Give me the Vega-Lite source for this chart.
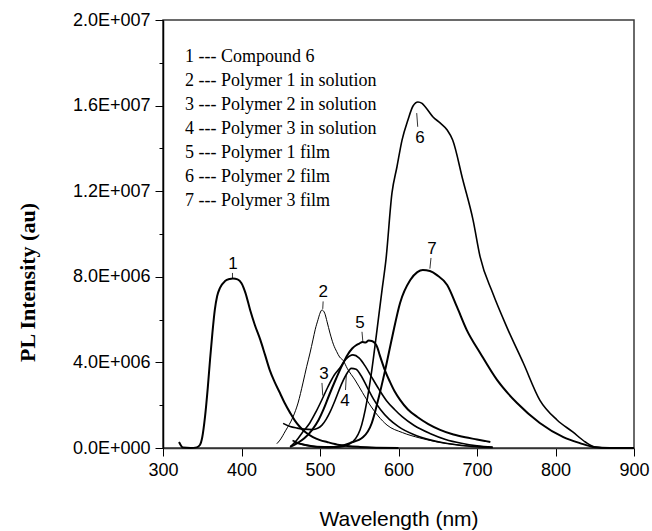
{
  "$schema": "https://vega.github.io/schema/vega-lite/v6.json",
  "width": 471,
  "height": 428,
  "autosize": {"type": "none"},
  "padding": {"left": 163, "top": 20, "right": 18, "bottom": 83},
  "background": "white",
  "config": {"view": {"stroke": "#3a3a3a", "strokeWidth": 1.5}, "font": "Liberation Sans"},
  "datasets": {
    "spectra": [
      {"s":"1 --- Compound 6","wl":320.4,"pl":0.28e6},{"s":"1 --- Compound 6","wl":325.5,"pl":0.02e6},{"s":"1 --- Compound 6","wl":335,"pl":0},{"s":"1 --- Compound 6","wl":343,"pl":0.03e6},{"s":"1 --- Compound 6","wl":347,"pl":0.14e6},{"s":"1 --- Compound 6","wl":350,"pl":0.5e6},{"s":"1 --- Compound 6","wl":353.5,"pl":1.45e6},{"s":"1 --- Compound 6","wl":357,"pl":2.8e6},{"s":"1 --- Compound 6","wl":360,"pl":4.16e6},{"s":"1 --- Compound 6","wl":363,"pl":5.4e6},{"s":"1 --- Compound 6","wl":366,"pl":6.45e6},{"s":"1 --- Compound 6","wl":369,"pl":7.1e6},{"s":"1 --- Compound 6","wl":372.6,"pl":7.48e6},{"s":"1 --- Compound 6","wl":379,"pl":7.8e6},{"s":"1 --- Compound 6","wl":385,"pl":7.9e6},{"s":"1 --- Compound 6","wl":389,"pl":7.92e6},{"s":"1 --- Compound 6","wl":395,"pl":7.88e6},{"s":"1 --- Compound 6","wl":400,"pl":7.7e6},{"s":"1 --- Compound 6","wl":405,"pl":7.25e6},{"s":"1 --- Compound 6","wl":411,"pl":6.45e6},{"s":"1 --- Compound 6","wl":417,"pl":5.75e6},{"s":"1 --- Compound 6","wl":424,"pl":5.05e6},{"s":"1 --- Compound 6","wl":430,"pl":4.35e6},{"s":"1 --- Compound 6","wl":436,"pl":3.64e6},{"s":"1 --- Compound 6","wl":442,"pl":3.1e6},{"s":"1 --- Compound 6","wl":449,"pl":2.57e6},{"s":"1 --- Compound 6","wl":455,"pl":2.1e6},{"s":"1 --- Compound 6","wl":462,"pl":1.64e6},{"s":"1 --- Compound 6","wl":468,"pl":1.28e6},{"s":"1 --- Compound 6","wl":474.5,"pl":0.98e6},{"s":"1 --- Compound 6","wl":482,"pl":0.72e6},{"s":"1 --- Compound 6","wl":491,"pl":0.51e6},{"s":"1 --- Compound 6","wl":500,"pl":0.37e6},{"s":"1 --- Compound 6","wl":509,"pl":0.28e6},{"s":"1 --- Compound 6","wl":525,"pl":0.14e6},{"s":"1 --- Compound 6","wl":551,"pl":0.05e6},{"s":"1 --- Compound 6","wl":600,"pl":0},

      {"s":"2 --- Polymer 1 in solution","wl":445,"pl":0.2e6},{"s":"2 --- Polymer 1 in solution","wl":449,"pl":0.37e6},{"s":"2 --- Polymer 1 in solution","wl":456,"pl":0.8e6},{"s":"2 --- Polymer 1 in solution","wl":465.6,"pl":1.45e6},{"s":"2 --- Polymer 1 in solution","wl":472,"pl":2.1e6},{"s":"2 --- Polymer 1 in solution","wl":478.3,"pl":3.04e6},{"s":"2 --- Polymer 1 in solution","wl":483,"pl":3.8e6},{"s":"2 --- Polymer 1 in solution","wl":487.3,"pl":4.44e6},{"s":"2 --- Polymer 1 in solution","wl":491,"pl":5.05e6},{"s":"2 --- Polymer 1 in solution","wl":494,"pl":5.55e6},{"s":"2 --- Polymer 1 in solution","wl":497.5,"pl":6.0e6},{"s":"2 --- Polymer 1 in solution","wl":500,"pl":6.3e6},{"s":"2 --- Polymer 1 in solution","wl":502.5,"pl":6.45e6},{"s":"2 --- Polymer 1 in solution","wl":506,"pl":6.3e6},{"s":"2 --- Polymer 1 in solution","wl":509,"pl":5.9e6},{"s":"2 --- Polymer 1 in solution","wl":512.7,"pl":5.37e6},{"s":"2 --- Polymer 1 in solution","wl":517,"pl":4.85e6},{"s":"2 --- Polymer 1 in solution","wl":521.3,"pl":4.5e6},{"s":"2 --- Polymer 1 in solution","wl":525,"pl":4.25e6},{"s":"2 --- Polymer 1 in solution","wl":529.3,"pl":4.1e6},{"s":"2 --- Polymer 1 in solution","wl":535,"pl":3.7e6},{"s":"2 --- Polymer 1 in solution","wl":544.6,"pl":3.18e6},{"s":"2 --- Polymer 1 in solution","wl":554,"pl":2.6e6},{"s":"2 --- Polymer 1 in solution","wl":563.7,"pl":2.01e6},{"s":"2 --- Polymer 1 in solution","wl":574,"pl":1.5e6},{"s":"2 --- Polymer 1 in solution","wl":585.4,"pl":1.07e6},{"s":"2 --- Polymer 1 in solution","wl":605,"pl":0.72e6},{"s":"2 --- Polymer 1 in solution","wl":627,"pl":0.47e6},{"s":"2 --- Polymer 1 in solution","wl":665.6,"pl":0.19e6},{"s":"2 --- Polymer 1 in solution","wl":703.8,"pl":0.05e6},

      {"s":"3 --- Polymer 2 in solution","wl":462,"pl":0.05e6},{"s":"3 --- Polymer 2 in solution","wl":470,"pl":0.35e6},{"s":"3 --- Polymer 2 in solution","wl":478,"pl":0.75e6},{"s":"3 --- Polymer 2 in solution","wl":487,"pl":1.17e6},{"s":"3 --- Polymer 2 in solution","wl":495,"pl":1.7e6},{"s":"3 --- Polymer 2 in solution","wl":503,"pl":2.3e6},{"s":"3 --- Polymer 2 in solution","wl":510,"pl":2.85e6},{"s":"3 --- Polymer 2 in solution","wl":518,"pl":3.4e6},{"s":"3 --- Polymer 2 in solution","wl":525.5,"pl":3.75e6},{"s":"3 --- Polymer 2 in solution","wl":533,"pl":4.15e6},{"s":"3 --- Polymer 2 in solution","wl":542,"pl":4.35e6},{"s":"3 --- Polymer 2 in solution","wl":550,"pl":4.2e6},{"s":"3 --- Polymer 2 in solution","wl":558,"pl":3.8e6},{"s":"3 --- Polymer 2 in solution","wl":566,"pl":3.3e6},{"s":"3 --- Polymer 2 in solution","wl":575,"pl":2.75e6},{"s":"3 --- Polymer 2 in solution","wl":585,"pl":2.2e6},{"s":"3 --- Polymer 2 in solution","wl":595,"pl":1.8e6},{"s":"3 --- Polymer 2 in solution","wl":605,"pl":1.45e6},{"s":"3 --- Polymer 2 in solution","wl":620,"pl":1.05e6},{"s":"3 --- Polymer 2 in solution","wl":640,"pl":0.68e6},{"s":"3 --- Polymer 2 in solution","wl":660,"pl":0.4e6},{"s":"3 --- Polymer 2 in solution","wl":680,"pl":0.22e6},{"s":"3 --- Polymer 2 in solution","wl":700,"pl":0.1e6},{"s":"3 --- Polymer 2 in solution","wl":720,"pl":0.04e6},

      {"s":"4 --- Polymer 3 in solution","wl":453,"pl":1.15e6},{"s":"4 --- Polymer 3 in solution","wl":462,"pl":1.0e6},{"s":"4 --- Polymer 3 in solution","wl":471,"pl":0.93e6},{"s":"4 --- Polymer 3 in solution","wl":480,"pl":0.88e6},{"s":"4 --- Polymer 3 in solution","wl":490,"pl":0.86e6},{"s":"4 --- Polymer 3 in solution","wl":497,"pl":0.92e6},{"s":"4 --- Polymer 3 in solution","wl":502.5,"pl":1.07e6},{"s":"4 --- Polymer 3 in solution","wl":508,"pl":1.35e6},{"s":"4 --- Polymer 3 in solution","wl":513,"pl":1.7e6},{"s":"4 --- Polymer 3 in solution","wl":520,"pl":2.3e6},{"s":"4 --- Polymer 3 in solution","wl":527,"pl":2.95e6},{"s":"4 --- Polymer 3 in solution","wl":533,"pl":3.4e6},{"s":"4 --- Polymer 3 in solution","wl":540,"pl":3.72e6},{"s":"4 --- Polymer 3 in solution","wl":546,"pl":3.68e6},{"s":"4 --- Polymer 3 in solution","wl":552,"pl":3.4e6},{"s":"4 --- Polymer 3 in solution","wl":560,"pl":2.85e6},{"s":"4 --- Polymer 3 in solution","wl":568,"pl":2.3e6},{"s":"4 --- Polymer 3 in solution","wl":577,"pl":1.8e6},{"s":"4 --- Polymer 3 in solution","wl":588,"pl":1.35e6},{"s":"4 --- Polymer 3 in solution","wl":600,"pl":1.0e6},{"s":"4 --- Polymer 3 in solution","wl":620,"pl":0.62e6},{"s":"4 --- Polymer 3 in solution","wl":640,"pl":0.38e6},{"s":"4 --- Polymer 3 in solution","wl":660,"pl":0.22e6},{"s":"4 --- Polymer 3 in solution","wl":680,"pl":0.12e6},{"s":"4 --- Polymer 3 in solution","wl":700,"pl":0.06e6},{"s":"4 --- Polymer 3 in solution","wl":720,"pl":0.02e6},

      {"s":"5 --- Polymer 1 film","wl":462,"pl":0.05e6},{"s":"5 --- Polymer 1 film","wl":470,"pl":0.2e6},{"s":"5 --- Polymer 1 film","wl":480,"pl":0.45e6},{"s":"5 --- Polymer 1 film","wl":490,"pl":0.85e6},{"s":"5 --- Polymer 1 film","wl":498,"pl":1.3e6},{"s":"5 --- Polymer 1 film","wl":505,"pl":1.85e6},{"s":"5 --- Polymer 1 film","wl":512,"pl":2.5e6},{"s":"5 --- Polymer 1 film","wl":520,"pl":3.2e6},{"s":"5 --- Polymer 1 film","wl":528,"pl":3.85e6},{"s":"5 --- Polymer 1 film","wl":535,"pl":4.35e6},{"s":"5 --- Polymer 1 film","wl":541,"pl":4.65e6},{"s":"5 --- Polymer 1 film","wl":546,"pl":4.8e6},{"s":"5 --- Polymer 1 film","wl":550,"pl":4.88e6},{"s":"5 --- Polymer 1 film","wl":554,"pl":4.95e6},{"s":"5 --- Polymer 1 film","wl":558,"pl":4.93e6},{"s":"5 --- Polymer 1 film","wl":562,"pl":5.02e6},{"s":"5 --- Polymer 1 film","wl":566,"pl":5.0e6},{"s":"5 --- Polymer 1 film","wl":570,"pl":4.9e6},{"s":"5 --- Polymer 1 film","wl":573,"pl":4.7e6},{"s":"5 --- Polymer 1 film","wl":576,"pl":4.35e6},{"s":"5 --- Polymer 1 film","wl":582,"pl":3.7e6},{"s":"5 --- Polymer 1 film","wl":589,"pl":3.1e6},{"s":"5 --- Polymer 1 film","wl":595,"pl":2.65e6},{"s":"5 --- Polymer 1 film","wl":602,"pl":2.25e6},{"s":"5 --- Polymer 1 film","wl":612,"pl":1.8e6},{"s":"5 --- Polymer 1 film","wl":624,"pl":1.45e6},{"s":"5 --- Polymer 1 film","wl":638,"pl":1.12e6},{"s":"5 --- Polymer 1 film","wl":653,"pl":0.85e6},{"s":"5 --- Polymer 1 film","wl":670,"pl":0.63e6},{"s":"5 --- Polymer 1 film","wl":685,"pl":0.5e6},{"s":"5 --- Polymer 1 film","wl":700,"pl":0.4e6},{"s":"5 --- Polymer 1 film","wl":710,"pl":0.33e6},{"s":"5 --- Polymer 1 film","wl":717,"pl":0.28e6},

      {"s":"6 --- Polymer 2 film","wl":465,"pl":0.35e6},{"s":"6 --- Polymer 2 film","wl":475,"pl":0.2e6},{"s":"6 --- Polymer 2 film","wl":490,"pl":0.08e6},{"s":"6 --- Polymer 2 film","wl":510,"pl":0.03e6},{"s":"6 --- Polymer 2 film","wl":525,"pl":0.05e6},{"s":"6 --- Polymer 2 film","wl":538,"pl":0.19e6},{"s":"6 --- Polymer 2 film","wl":551,"pl":0.84e6},{"s":"6 --- Polymer 2 film","wl":560,"pl":2.24e6},{"s":"6 --- Polymer 2 film","wl":566,"pl":3.64e6},{"s":"6 --- Polymer 2 film","wl":572.6,"pl":5.51e6},{"s":"6 --- Polymer 2 film","wl":579,"pl":7.38e6},{"s":"6 --- Polymer 2 film","wl":584,"pl":8.79e6},{"s":"6 --- Polymer 2 film","wl":591.7,"pl":11.92e6},{"s":"6 --- Polymer 2 film","wl":598,"pl":13.13e6},{"s":"6 --- Polymer 2 film","wl":604.5,"pl":14.39e6},{"s":"6 --- Polymer 2 film","wl":612,"pl":15.33e6},{"s":"6 --- Polymer 2 film","wl":618.5,"pl":15.98e6},{"s":"6 --- Polymer 2 film","wl":624.8,"pl":16.17e6},{"s":"6 --- Polymer 2 film","wl":630,"pl":16.1e6},{"s":"6 --- Polymer 2 film","wl":634,"pl":15.95e6},{"s":"6 --- Polymer 2 film","wl":644,"pl":15.47e6},{"s":"6 --- Polymer 2 film","wl":653,"pl":15.19e6},{"s":"6 --- Polymer 2 film","wl":662,"pl":14.86e6},{"s":"6 --- Polymer 2 film","wl":669,"pl":14.39e6},{"s":"6 --- Polymer 2 film","wl":682,"pl":12.52e6},{"s":"6 --- Polymer 2 film","wl":695,"pl":10.65e6},{"s":"6 --- Polymer 2 film","wl":704,"pl":8.93e6},{"s":"6 --- Polymer 2 film","wl":720,"pl":7.24e6},{"s":"6 --- Polymer 2 film","wl":738,"pl":5.65e6},{"s":"6 --- Polymer 2 film","wl":759,"pl":3.97e6},{"s":"6 --- Polymer 2 film","wl":780,"pl":2.24e6},{"s":"6 --- Polymer 2 film","wl":802,"pl":1.31e6},{"s":"6 --- Polymer 2 film","wl":822,"pl":0.75e6},{"s":"6 --- Polymer 2 film","wl":838,"pl":0.28e6},{"s":"6 --- Polymer 2 film","wl":850,"pl":0.05e6},{"s":"6 --- Polymer 2 film","wl":869,"pl":0},{"s":"6 --- Polymer 2 film","wl":900,"pl":0},

      {"s":"7 --- Polymer 3 film","wl":468,"pl":0.25e6},{"s":"7 --- Polymer 3 film","wl":480,"pl":0.15e6},{"s":"7 --- Polymer 3 film","wl":495,"pl":0.06e6},{"s":"7 --- Polymer 3 film","wl":516.6,"pl":0.05e6},{"s":"7 --- Polymer 3 film","wl":538,"pl":0.23e6},{"s":"7 --- Polymer 3 film","wl":555,"pl":0.51e6},{"s":"7 --- Polymer 3 film","wl":566,"pl":1.17e6},{"s":"7 --- Polymer 3 film","wl":574,"pl":2.24e6},{"s":"7 --- Polymer 3 film","wl":583,"pl":3.64e6},{"s":"7 --- Polymer 3 film","wl":592,"pl":5.19e6},{"s":"7 --- Polymer 3 film","wl":602,"pl":6.78e6},{"s":"7 --- Polymer 3 film","wl":615,"pl":7.85e6},{"s":"7 --- Polymer 3 film","wl":624,"pl":8.22e6},{"s":"7 --- Polymer 3 film","wl":631,"pl":8.32e6},{"s":"7 --- Polymer 3 film","wl":640,"pl":8.27e6},{"s":"7 --- Polymer 3 film","wl":649,"pl":8.08e6},{"s":"7 --- Polymer 3 film","wl":662,"pl":7.62e6},{"s":"7 --- Polymer 3 film","wl":674.5,"pl":6.59e6},{"s":"7 --- Polymer 3 film","wl":687,"pl":5.51e6},{"s":"7 --- Polymer 3 film","wl":704,"pl":4.44e6},{"s":"7 --- Polymer 3 film","wl":725.5,"pl":3.18e6},{"s":"7 --- Polymer 3 film","wl":751,"pl":2.1e6},{"s":"7 --- Polymer 3 film","wl":780,"pl":1.17e6},{"s":"7 --- Polymer 3 film","wl":810,"pl":0.51e6},{"s":"7 --- Polymer 3 film","wl":831,"pl":0.23e6},{"s":"7 --- Polymer 3 film","wl":848,"pl":0.05e6},{"s":"7 --- Polymer 3 film","wl":869,"pl":0},{"s":"7 --- Polymer 3 film","wl":900,"pl":0}
    ],
    "labels": [
      {"num":"1","wl":389.2,"pl":8.6e6},
      {"num":"2","wl":504.2,"pl":7.3e6},
      {"num":"3","wl":505.1,"pl":3.45e6},
      {"num":"4","wl":531.8,"pl":2.2e6},
      {"num":"5","wl":551,"pl":5.85e6},
      {"num":"6","wl":627.4,"pl":14.5e6},
      {"num":"7","wl":642.7,"pl":9.3e6}
    ],
    "leaders": [
      {"wl":388.5,"pl":8.18e6,"wl2":388.5,"pl2":7.92e6},
      {"wl":504,"pl":6.85e6,"wl2":503.5,"pl2":6.5e6},
      {"wl":502.5,"pl":3.04e6,"wl2":503.5,"pl2":2.45e6},
      {"wl":532.5,"pl":2.71e6,"wl2":533.5,"pl2":3.4e6},
      {"wl":553.5,"pl":5.43e6,"wl2":554.5,"pl2":5.0e6},
      {"wl":623.2,"pl":15.65e6,"wl2":624.5,"pl2":15.01e6},
      {"wl":641.4,"pl":8.88e6,"wl2":640,"pl2":8.38e6}
    ]
  },
  "layer": [
    {
      "data": {"name": "spectra"},
      "mark": {"type": "line", "interpolate": "monotone", "color": "black"},
      "encoding": {
        "x": {
          "field": "wl", "type": "quantitative",
          "scale": {"domain": [300, 900], "nice": false, "zero": false},
          "axis": {
            "title": "Wavelength (nm)",
            "values": [300,350,400,450,500,550,600,650,700,750,800,850,900],
            "labelExpr": "datum.value % 100 === 0 ? datum.label : ''",
            "tickSize": {"condition": {"test": "datum.value % 100 === 0", "value": 8}, "value": 4},
            "grid": false,
            "domainColor": "#333333", "domainWidth": 1.5,
            "tickColor": "black", "tickWidth": 1,
            "labelFont": "Liberation Sans", "labelFontSize": 18, "labelColor": "black", "labelPadding": 5,
            "labelFlush": false,
            "titleFont": "Liberation Sans", "titleFontSize": 21, "titleFontWeight": "normal", "titleColor": "black",
            "titleBaseline": "alphabetic", "titleY": 77
          }
        },
        "y": {
          "field": "pl", "type": "quantitative",
          "scale": {"domain": [0, 20000000], "nice": false},
          "axis": {
            "title": "PL Intensity (au)",
            "values": [0,2000000,4000000,6000000,8000000,10000000,12000000,14000000,16000000,18000000,20000000],
            "labelExpr": "datum.value % 4000000 !== 0 ? '' : (datum.value === 0 ? '0.0E+000' : format(datum.value / pow(10, floor(log(datum.value) / LN10 + 1e-9)), '.1f') + 'E+' + pad(toString(floor(log(datum.value) / LN10 + 1e-9)), 3, '0', 'left'))",
            "tickSize": {"condition": {"test": "datum.value % 4000000 === 0", "value": 8}, "value": 4},
            "grid": false,
            "domainColor": "black", "domainWidth": 1.5,
            "tickColor": "black", "tickWidth": 1,
            "labelFont": "Liberation Sans", "labelFontSize": 18, "labelColor": "black", "labelPadding": 5,
            "labelFlush": false,
            "titleFont": "Liberation Serif", "titleFontSize": 22, "titleFontWeight": "bold", "titleColor": "black",
            "titleAngle": 270, "titleAlign": "center", "titleBaseline": "alphabetic",
            "titleX": -129, "titleY": 262
          }
        },
        "color": {
          "field": "s", "type": "nominal",
          "scale": {
            "domain": ["1 --- Compound 6","2 --- Polymer 1 in solution","3 --- Polymer 2 in solution","4 --- Polymer 3 in solution","5 --- Polymer 1 film","6 --- Polymer 2 film","7 --- Polymer 3 film"],
            "range": ["black","black","black","black","black","black","black"]
          },
          "legend": {
            "title": null, "orient": "none", "legendX": 4, "legendY": 28, "padding": 0,
            "symbolType": "stroke", "symbolSize": 0, "symbolStrokeWidth": 0, "symbolOpacity": 0,
            "labelOffset": 0, "labelFont": "Liberation Serif", "labelFontSize": 18, "labelColor": "black",
            "rowPadding": 6, "labelLimit": 400
          }
        },
        "strokeWidth": {
          "field": "s", "type": "nominal",
          "scale": {
            "type": "ordinal",
            "domain": ["1 --- Compound 6","2 --- Polymer 1 in solution","3 --- Polymer 2 in solution","4 --- Polymer 3 in solution","5 --- Polymer 1 film","6 --- Polymer 2 film","7 --- Polymer 3 film"],
            "range": [2, 1, 1.6, 1.6, 2, 1.6, 2]
          },
          "legend": null
        }
      }
    },
    {
      "data": {"name": "leaders"},
      "mark": {"type": "rule", "color": "black", "strokeWidth": 0.8},
      "encoding": {
        "x": {"field": "wl", "type": "quantitative"},
        "y": {"field": "pl", "type": "quantitative"},
        "x2": {"field": "wl2"},
        "y2": {"field": "pl2"}
      }
    },
    {
      "data": {"name": "labels"},
      "mark": {"type": "text", "font": "Liberation Sans", "fontSize": 17, "color": "black", "align": "center", "baseline": "middle"},
      "encoding": {
        "x": {"field": "wl", "type": "quantitative"},
        "y": {"field": "pl", "type": "quantitative"},
        "text": {"field": "num"}
      }
    }
  ]
}
